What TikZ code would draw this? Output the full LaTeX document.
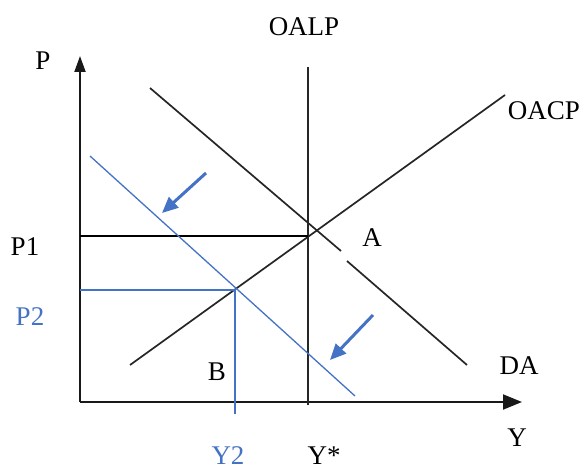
\documentclass[tikz,border=0pt]{standalone}
\usepackage{fontspec}
\setmainfont{Liberation Serif}
\usetikzlibrary{arrows.meta}
\definecolor{cblue}{RGB}{68,114,196}
\begin{document}
\begin{tikzpicture}[x=1pt,y=-1pt,
  lbl/.style={font=\fontsize{27}{27}\selectfont,inner sep=0pt,anchor=center,text depth=0pt},
  bluelbl/.style={lbl,text=cblue},
  curve/.style={line width=1.7pt,black!85},
  bcurve/.style={line width=1.3pt,cblue},
  guide/.style={line width=1.3pt,black},
  axis/.style={line width=1.9pt,black!90},
  shiftarrow/.style={line width=3pt,cblue,-{Triangle[length=16pt,width=14pt]}}]
\useasboundingbox (0,0) rectangle (588,470);
% axes
\coordinate (O) at (80,402);
\coordinate (ytop) at (80,56);
\coordinate (xend) at (522,402);
\draw[axis,-{Triangle[length=16pt,width=11pt]}] (O) -- (ytop);
\draw[axis,-{Triangle[length=19pt,width=15pt]}] (O) -- (xend);
% OALP
\coordinate (lp1) at (308,67);
\coordinate (lp2) at (308,405);
\draw[curve] (lp1) -- (lp2);
% OACP
\coordinate (cp1) at (130,365);
\coordinate (cp2) at (505,95);
\draw[curve] (cp1) -- (cp2);
% DA (with small gap)
\coordinate (da1) at (150,88);
\coordinate (daa) at (341,251);
\coordinate (dab) at (347,261);
\coordinate (da2) at (467,365);
\draw[curve] (da1) -- (daa);
\draw[curve] (dab) -- (da2);
% P1 guide
\coordinate (p1s) at (80,236);
\coordinate (p1e) at (308,236);
\draw[guide] (p1s) -- (p1e);
% DA2 blue
\coordinate (d21) at (90,156);
\coordinate (d22) at (355,396);
\draw[bcurve] (d21) -- (d22);
% P2 / Y2 guides
\coordinate (p2s) at (80,290);
\coordinate (Bpt) at (235,290);
\coordinate (y2e) at (235,414);
\draw[bcurve] (p2s) -- (Bpt) -- (y2e);
% shift arrows
\coordinate (a1s) at (206,173);
\coordinate (a1e) at (162,213);
\coordinate (a2s) at (373,315);
\coordinate (a2e) at (330,360);
\draw[shiftarrow] (a1s) -- (a1e);
\draw[shiftarrow] (a2s) -- (a2e);
% labels
\node[lbl] (P) at (43,61) {P};
\node[lbl] (OALP) at (304,27) {OALP};
\node[lbl] (OACP) at (544,111) {OACP};
\node[lbl] (P1) at (25,247) {P1};
\node[lbl] (A) at (372,238) {A};
\node[bluelbl] (P2) at (30,317) {P2};
\node[lbl] (B) at (217,372) {B};
\node[lbl] (DA) at (519,366) {DA};
\node[lbl] (Y) at (517,438) {Y};
\node[bluelbl] (Y2) at (228,456) {Y2};
\node[lbl] (Ystar) at (324,456) {Y*};
\end{tikzpicture}
\end{document}
